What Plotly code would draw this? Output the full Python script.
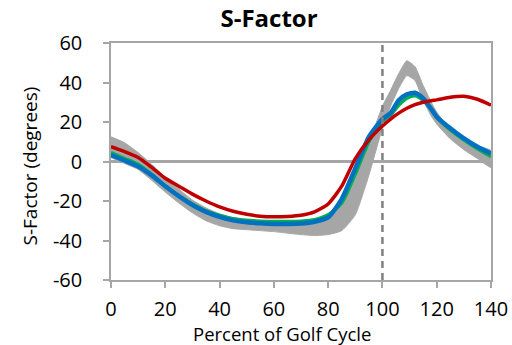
import plotly.graph_objects as go

# ---- data ----
pct_cycle = [0, 5, 10, 15, 20, 25, 30, 35, 40, 45, 50, 55, 60, 65, 70, 75, 80, 85, 90, 95,
             100, 103, 106, 109, 112, 115, 118, 120, 125, 130, 135, 140]

band_upper = [12.5, 9.5, 4.5, -1.5, -8, -14, -19.5, -23.5, -26.5, -28.5, -29.5, -30, -30, -30, -30, -29.5,
              -28, -22, -9, 9, 28, 36, 44.5, 51, 48, 38.5, 30, 25, 16.5, 11.5, 8, 5.5]
band_lower = [2, -1, -4, -9.5, -15.5, -21, -26, -30, -32.5, -34, -34.5, -35, -35.5, -36.3, -37, -37.5,
              -37, -35, -27, -7, 17, 28, 37, 43.5, 41, 31, 23, 19, 11.5, 6, 1.5, -3]

green_vals = [4.5, 1.5, -1.5, -6.5, -12.5, -17.5, -21.5, -25, -27.3, -29, -29.8, -30.2, -30.4, -30.4, -30.2, -29.5,
              -27, -21, -6.5, 10, 20.5, 23.5, 28.5, 32, 33.3, 31, 26.5, 22.5, 16, 11, 6.5, 2.5]
blue_vals = [3.3, 0.5, -2.5, -7, -12.5, -17.5, -22, -25.5, -28, -29.8, -30.8, -31.3, -31.6, -31.6, -31.4, -30.5,
             -28.3, -19, -3.5, 12.5, 21.5, 24.5, 31, 34, 34.8, 32, 26.5, 22.7, 16.8, 11.7, 7.5, 4]
red_vals = [7.5, 5, 2, -3, -8.5, -12.5, -16.5, -20, -23, -25.2, -26.7, -27.7, -28, -27.8, -27.2, -25.5,
            -21.5, -12.5, 1.5, 11, 18, 21.5, 24.5, 27, 28.8, 30, 30.8, 31.2, 32.5, 33, 31.5, 28.5]

event_x = 100
x_ticks = [0, 20, 40, 60, 80, 100, 120, 140]
x_tick_labels = ["0", "20", "40", "60", "80", "100", "120", "140"]
y_ticks = [-60, -40, -20, 0, 20, 40, 60]
y_tick_labels = ["-60", "-40", "-20", "0", "20", "40", "60"]

FONT = "Open Sans"
AXIS_GRAY = "#A6A6A6"

fig = go.Figure()

# gray normative band
fig.add_trace(go.Scatter(
    x=pct_cycle + pct_cycle[::-1],
    y=band_upper + band_lower[::-1],
    fill="toself", fillcolor="#A6A6A6",
    line=dict(color="#A6A6A6", width=1, shape="spline", smoothing=0.5),
    mode="lines", hoverinfo="skip", showlegend=False))

fig.add_trace(go.Scatter(x=pct_cycle, y=green_vals, mode="lines",
                         line=dict(color="#00B050", width=3.5, shape="spline", smoothing=0.6),
                         showlegend=False))
fig.add_trace(go.Scatter(x=pct_cycle, y=blue_vals, mode="lines",
                         line=dict(color="#0070C0", width=4.5, shape="spline", smoothing=0.6),
                         showlegend=False))
fig.add_trace(go.Scatter(x=pct_cycle, y=red_vals, mode="lines",
                         line=dict(color="#C00000", width=3.5, shape="spline", smoothing=0.6),
                         showlegend=False))

fig.add_shape(type="line", xref="x", yref="paper", x0=event_x, x1=event_x, y0=0, y1=1,
              line=dict(color="#808080", width=2.5, dash="7px,5px"), layer="above")

# plot area: left 111, right 491, top 43, bottom 280 (px)
PL, PR, PT, PB = 111, 491, 43, 280
PW, PH = PR - PL, PB - PT

fig.add_annotation(text="Percent of Golf Cycle", xref="paper", yref="paper",
                   x=(282 - PL) / PW, y=(PB - 333) / PH, xanchor="center", yanchor="middle",
                   showarrow=False, font=dict(family=FONT, size=18.5, color="#000000"))
fig.add_annotation(text="S-Factor (degrees)", xref="paper", yref="paper",
                   x=(29.5 - PL) / PW, y=(PB - 166) / PH, xanchor="center", yanchor="middle",
                   textangle=-90, showarrow=False, font=dict(family=FONT, size=19, color="#000000"))

fig.update_layout(
    width=512, height=345,
    margin=dict(l=PL, r=512 - PR, t=PT, b=345 - PB),
    paper_bgcolor="white", plot_bgcolor="white",
    font=dict(family=FONT, color="#000000"),
    title=dict(text="<b>S-Factor</b>", x=269 / 512, xanchor="center", y=1 - 19 / 345, yanchor="middle",
               font=dict(family=FONT, size=24, color="#000000")),
    xaxis=dict(range=[0, 140], tickvals=x_ticks, ticktext=x_tick_labels, ticks="outside", ticklen=6,
               tickcolor=AXIS_GRAY, tickwidth=1.5, showline=True, linecolor=AXIS_GRAY, linewidth=1.5,
               mirror=True, showgrid=False, zeroline=False, tickfont=dict(size=20),
               ticklabelstandoff=4, automargin=False),
    yaxis=dict(range=[-60, 60], tickvals=y_ticks, ticktext=y_tick_labels, ticks="outside", ticklen=6,
               tickcolor=AXIS_GRAY, tickwidth=1.5, showline=True, linecolor=AXIS_GRAY, linewidth=1.5,
               mirror=True, showgrid=False, zeroline=True, zerolinecolor="#A6A6A6", zerolinewidth=2.5,
               tickfont=dict(size=20), ticklabelstandoff=17, automargin=False),
)

fig.write_html("out.html")
